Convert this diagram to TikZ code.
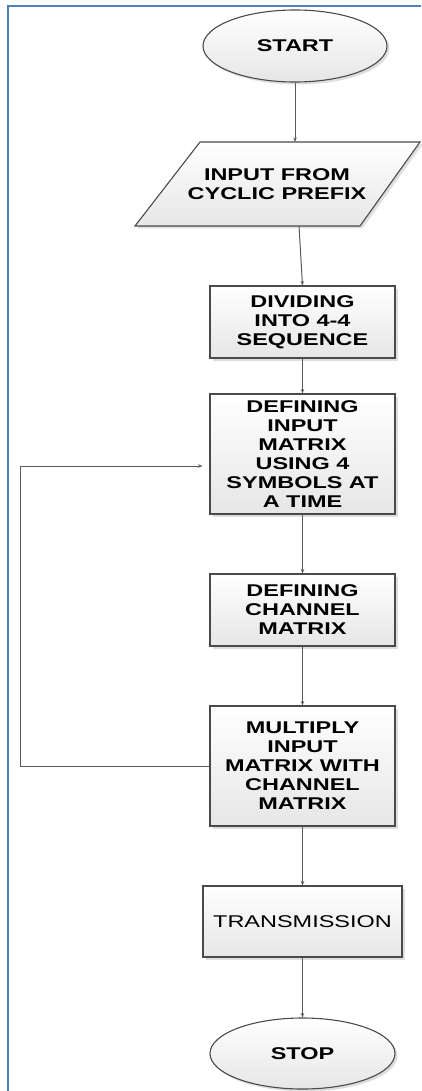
\documentclass[tikz,border=0pt]{standalone}
\usepackage{fontspec}
\newfontfamily\lbl{Liberation Sans}[FakeStretch=1.38]
\usetikzlibrary{arrows.meta,shapes.geometric,shadows}
\definecolor{framecol}{HTML}{4F81BD}
\definecolor{edgecol}{HTML}{4A4A4A}
\definecolor{linecol}{HTML}{5A5A5A}
\definecolor{fillbot}{HTML}{E6E6E6}

\begin{document}
\begin{tikzpicture}[x=1pt,y=-1pt,
  every node/.style={font=\lbl\fontsize{17}{19}\selectfont\bfseries, text=black},
  shade/.style={draw=edgecol, line width=1.1pt, top color=white, bottom color=fillbot,
    drop shadow={shadow xshift=2.5pt, shadow yshift=-2.5pt, fill=black, opacity=0.13}},
  proc/.style={shade, rectangle, minimum width=185pt, align=center, inner sep=0pt},
  term/.style={shade, ellipse, minimum width=184pt, minimum height=72pt, inner sep=0pt},
  link/.style={draw=linecol, line width=1pt, -{Stealth[length=4.5pt,width=3.5pt]}}
]
\useasboundingbox (0,0) rectangle (421,1091);

% page frame: left and top rules only
\draw[framecol, line width=2pt] (7.5,1091) -- (7.5,6.5) -- (421,6.5);

% terminals and steps
\node[term] (start) at (295,46) {START};

\path[shade] (200,142) -- (420,142) -- (360,226) -- (135,226) -- cycle;
\node[align=center, inner sep=0pt] (input) at (277,184) {INPUT FROM\\CYCLIC PREFIX};
\coordinate (inTop) at (295,142);
\coordinate (inBot) at (299,226);

\node[proc, minimum height=72pt] (divide) at (302.5,322) {DIVIDING\\INTO 4-4\\SEQUENCE};
\node[proc, minimum height=120pt] (inmat) at (302.5,454) {DEFINING\\INPUT\\MATRIX\\USING 4\\SYMBOLS AT\\A TIME};
\node[proc, minimum height=72pt] (chmat) at (302.5,610) {DEFINING\\CHANNEL\\MATRIX};
\node[proc, minimum height=120pt] (mult) at (302.5,766) {MULTIPLY\\INPUT\\MATRIX WITH\\CHANNEL\\MATRIX};
\node[proc, minimum height=71pt, minimum width=199pt, font=\lbl\fontsize{17}{19}\selectfont\mdseries] (trans) at (302.5,921.5) {TRANSMISSION};
\node[term, minimum width=185pt, minimum height=71pt] (stop) at (302.5,1053.5) {STOP};

% flow
\draw[link] (start.south) -- (inTop);
\draw[link] (inBot) -- (divide.north);
\draw[link] (divide) -- (inmat);
\draw[link] (inmat) -- (chmat);
\draw[link] (chmat) -- (mult);
\draw[link] (mult) -- (trans);
\draw[link] (trans) -- (stop);

% loop back to the input matrix
\coordinate (loopx) at (20,0);
\draw[link, shorten >=7pt] (mult.west) -- (mult.west -| loopx) |- ([yshift=-12pt]inmat.west);
\end{tikzpicture}
\end{document}
